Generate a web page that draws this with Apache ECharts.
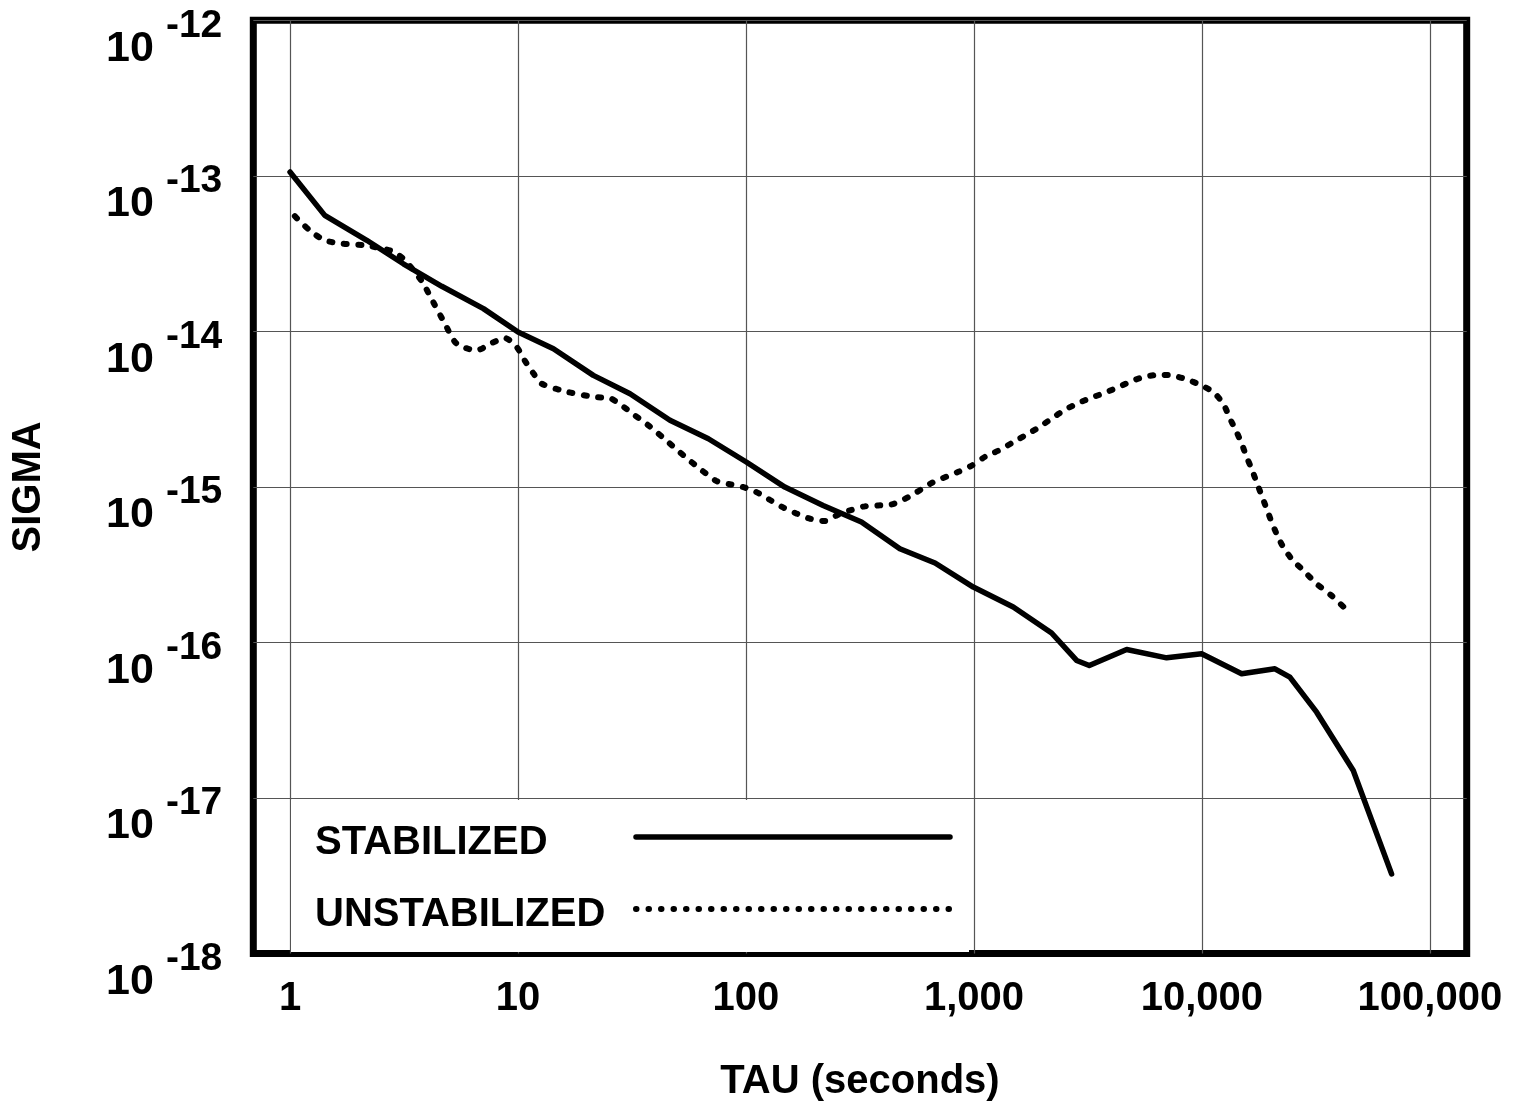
<!DOCTYPE html>
<html>
<head>
<meta charset="utf-8">
<script src="https://cdn.jsdelivr.net/npm/echarts@6/dist/echarts.min.js"></script>
<style>
html,body{margin:0;padding:0;background:#fff;}
#chart{width:1516px;height:1107px;}
</style>
</head>
<body>
<div id="chart"></div>
<script>
const FONT = '"Liberation Sans", Arial, Helvetica, sans-serif';

const seriesNames = ['STABILIZED', 'UNSTABILIZED'];
const xTitle = 'TAU (seconds)';
const yTitle = 'SIGMA';

const tauStab = [1, 1.42, 2.17, 3.14, 4.63, 7.05, 10, 14.3, 21.4, 31, 46.4, 68.4, 100.7, 148, 218, 321, 473, 675, 993, 1487, 2190, 2820, 3205, 4675, 7000, 9970, 14930, 20900, 24300, 31850, 46100, 67900];
const sigmaStab = [1.058e-13, 5.57e-14, 3.85e-14, 2.72e-14, 1.95e-14, 1.40e-14, 9.9e-15, 7.74e-15, 5.21e-15, 3.97e-15, 2.68e-15, 2.04e-15, 1.44e-15, 9.97e-16, 7.6e-16, 5.94e-16, 4.0e-16, 3.24e-16, 2.27e-16, 1.69e-16, 1.15e-16, 7.66e-17, 7.11e-17, 9.0e-17, 7.96e-17, 8.46e-17, 6.29e-17, 6.77e-17, 5.98e-17, 3.56e-17, 1.50e-17, 3.25e-18];

const tauUnstab = [1.05, 1.22, 1.42, 1.71, 2.13, 2.79, 3.14, 3.53, 3.84, 4.25,
  4.78, 5.38, 6.59, 7.66, 8.77, 9.87, 10.7, 11.7, 12.7, 16.6,
  21.8, 25.3, 28.5, 32.6, 37.3, 42.7, 48.8, 55.9, 63.9, 74.3,
  85.1, 97.3, 111, 127, 146, 167, 191, 222, 250, 286,
  332, 380, 435, 490, 561, 652, 854, 977, 1117, 1300,
  1462, 1674, 1915, 2191, 2508, 2870, 3283, 3818, 4369, 5000,
  5719, 6543, 7486, 8560, 9790, 11210, 12400, 13270, 14200, 14930,
  15700, 16500, 17380, 18270, 19220, 20220, 21250, 22740, 24740, 28330,
  31850, 37050, 43130];
const sigmaUnstab = [5.5e-14, 4.46e-14, 3.85e-14, 3.66e-14, 3.57e-14, 3.29e-14, 2.93e-14, 2.41e-14, 2.03e-14, 1.54e-14,
  1.12e-14, 8.33e-15, 7.55e-15, 8.41e-15, 9.06e-15, 7.93e-15, 6.5e-15, 5.35e-15, 4.61e-15, 4.07e-15,
  3.78e-15, 3.72e-15, 3.34e-15, 2.88e-15, 2.49e-15, 2.11e-15, 1.78e-15, 1.50e-15, 1.28e-15, 1.09e-15,
  1.04e-15, 9.97e-16, 9.26e-16, 8.27e-16, 7.35e-16, 6.73e-16, 6.24e-16, 6.03e-16, 6.56e-16, 7.06e-16,
  7.5e-16, 7.6e-16, 7.71e-16, 8.27e-16, 9.26e-16, 1.06e-15, 1.25e-15, 1.37e-15, 1.56e-15, 1.73e-15,
  1.91e-15, 2.14e-15, 2.40e-15, 2.75e-15, 3.13e-15, 3.46e-15, 3.75e-15, 4.07e-15, 4.43e-15, 4.84e-15,
  5.14e-15, 5.26e-15, 5.19e-15, 4.91e-15, 4.54e-15, 4.07e-15, 3.43e-15, 2.75e-15, 2.25e-15, 1.90e-15,
  1.56e-15, 1.31e-15, 1.07e-15, 8.82e-16, 7.24e-16, 5.94e-16, 5.0e-16, 4.10e-16, 3.45e-16, 2.83e-16,
  2.38e-16, 2.0e-16, 1.62e-16];

function fmtTau(v) {
  const e = Math.log10(v);
  if (Math.abs(e - Math.round(e)) > 1e-6) return '';
  return String(Math.round(v)).replace(/\B(?=(\d{3})+(?!\d))/g, ',');
}
function fmtSigma(v) {
  const e = Math.log10(v);
  if (Math.abs(e - Math.round(e)) > 1e-6) return '';
  return '{b|10}{s|' + Math.round(e) + '}';
}

const gridLine = { color: '#555', width: 1.2 };
const titleStyle = { fontFamily: FONT, fontWeight: 'bold', fontSize: 40, color: '#000' };

const chart = echarts.init(document.getElementById('chart'));
chart.setOption({
  animation: false,
  backgroundColor: '#fff',
  grid: {
    left: 253.3, right: 49.3, top: 20.3, bottom: 153.5,
    show: true, borderWidth: 7, borderColor: '#000', backgroundColor: 'transparent',
    containLabel: false, outerBoundsMode: 'none'
  },
  xAxis: {
    type: 'log', logBase: 10, min: 0.69, max: 145000,
    axisLine: { show: false }, axisTick: { show: false },
    splitLine: { show: true, showMinLine: false, showMaxLine: false, lineStyle: gridLine },
    axisLabel: { margin: 25, fontFamily: FONT, fontWeight: 'bold', fontSize: 40, color: '#000', formatter: fmtTau },
    name: xTitle, nameLocation: 'middle', nameGap: 108, nameTextStyle: titleStyle
  },
  yAxis: {
    type: 'log', logBase: 10, min: 1e-18, max: 1e-12,
    axisLine: { show: false }, axisTick: { show: false },
    splitLine: { show: true, showMinLine: false, showMaxLine: false, lineStyle: gridLine },
    axisLabel: {
      margin: 31, showMinLabel: true, showMaxLabel: true, color: '#000',
      formatter: fmtSigma,
      rich: {
        b: { fontFamily: FONT, fontWeight: 'bold', fontSize: 43, lineHeight: 43, color: '#000', padding: [57, 12, 0, 0] },
        s: { fontFamily: FONT, fontWeight: 'bold', fontSize: 39, lineHeight: 39, color: '#000', padding: [36, 0, 25, 0] }
      }
    },
    name: yTitle, nameLocation: 'middle', nameRotate: 90, nameGap: 204, nameTextStyle: titleStyle
  },
  legend: {
    orient: 'vertical', align: 'right',
    left: 291, top: 800,
    padding: [11, 16, 17, 24],
    backgroundColor: '#fff', borderWidth: 0,
    itemWidth: 314, itemHeight: 14, itemGap: 20,
    selectedMode: false,
    itemStyle: { opacity: 0 },
    formatter: function (name) { return '{t|' + name + '}'; },
    textStyle: {
      fontFamily: FONT, fontWeight: 'bold', fontSize: 40, color: '#000',
      rich: { t: { fontFamily: FONT, fontWeight: 'bold', fontSize: 40, lineHeight: 40, color: '#000', width: 316, align: 'left', padding: [12, 0, 0, 0] } }
    },
    data: [
      { name: seriesNames[0], lineStyle: { color: '#000', width: 5.5, type: 'solid', cap: 'round' } },
      { name: seriesNames[1], lineStyle: { color: '#000', width: 6, type: [0.5, 12.0], cap: 'round' } }
    ]
  },
  series: [
    {
      type: 'line', name: seriesNames[0],
      data: tauStab.map((t, i) => [t, sigmaStab[i]]),
      symbol: 'none', smooth: false, z: 3,
      lineStyle: { color: '#000', width: 5.5, cap: 'round', join: 'round' },
      itemStyle: { color: '#000' },
      emphasis: { disabled: true }
    },
    {
      type: 'line', name: seriesNames[1],
      data: tauUnstab.map((t, i) => [t, sigmaUnstab[i]]),
      symbol: 'none', smooth: 0.25, z: 3,
      lineStyle: { color: '#000', width: 6, type: [3, 11.5], cap: 'round', join: 'round' },
      itemStyle: { color: '#000' },
      emphasis: { disabled: true }
    }
  ]
});
</script>
</body>
</html>
